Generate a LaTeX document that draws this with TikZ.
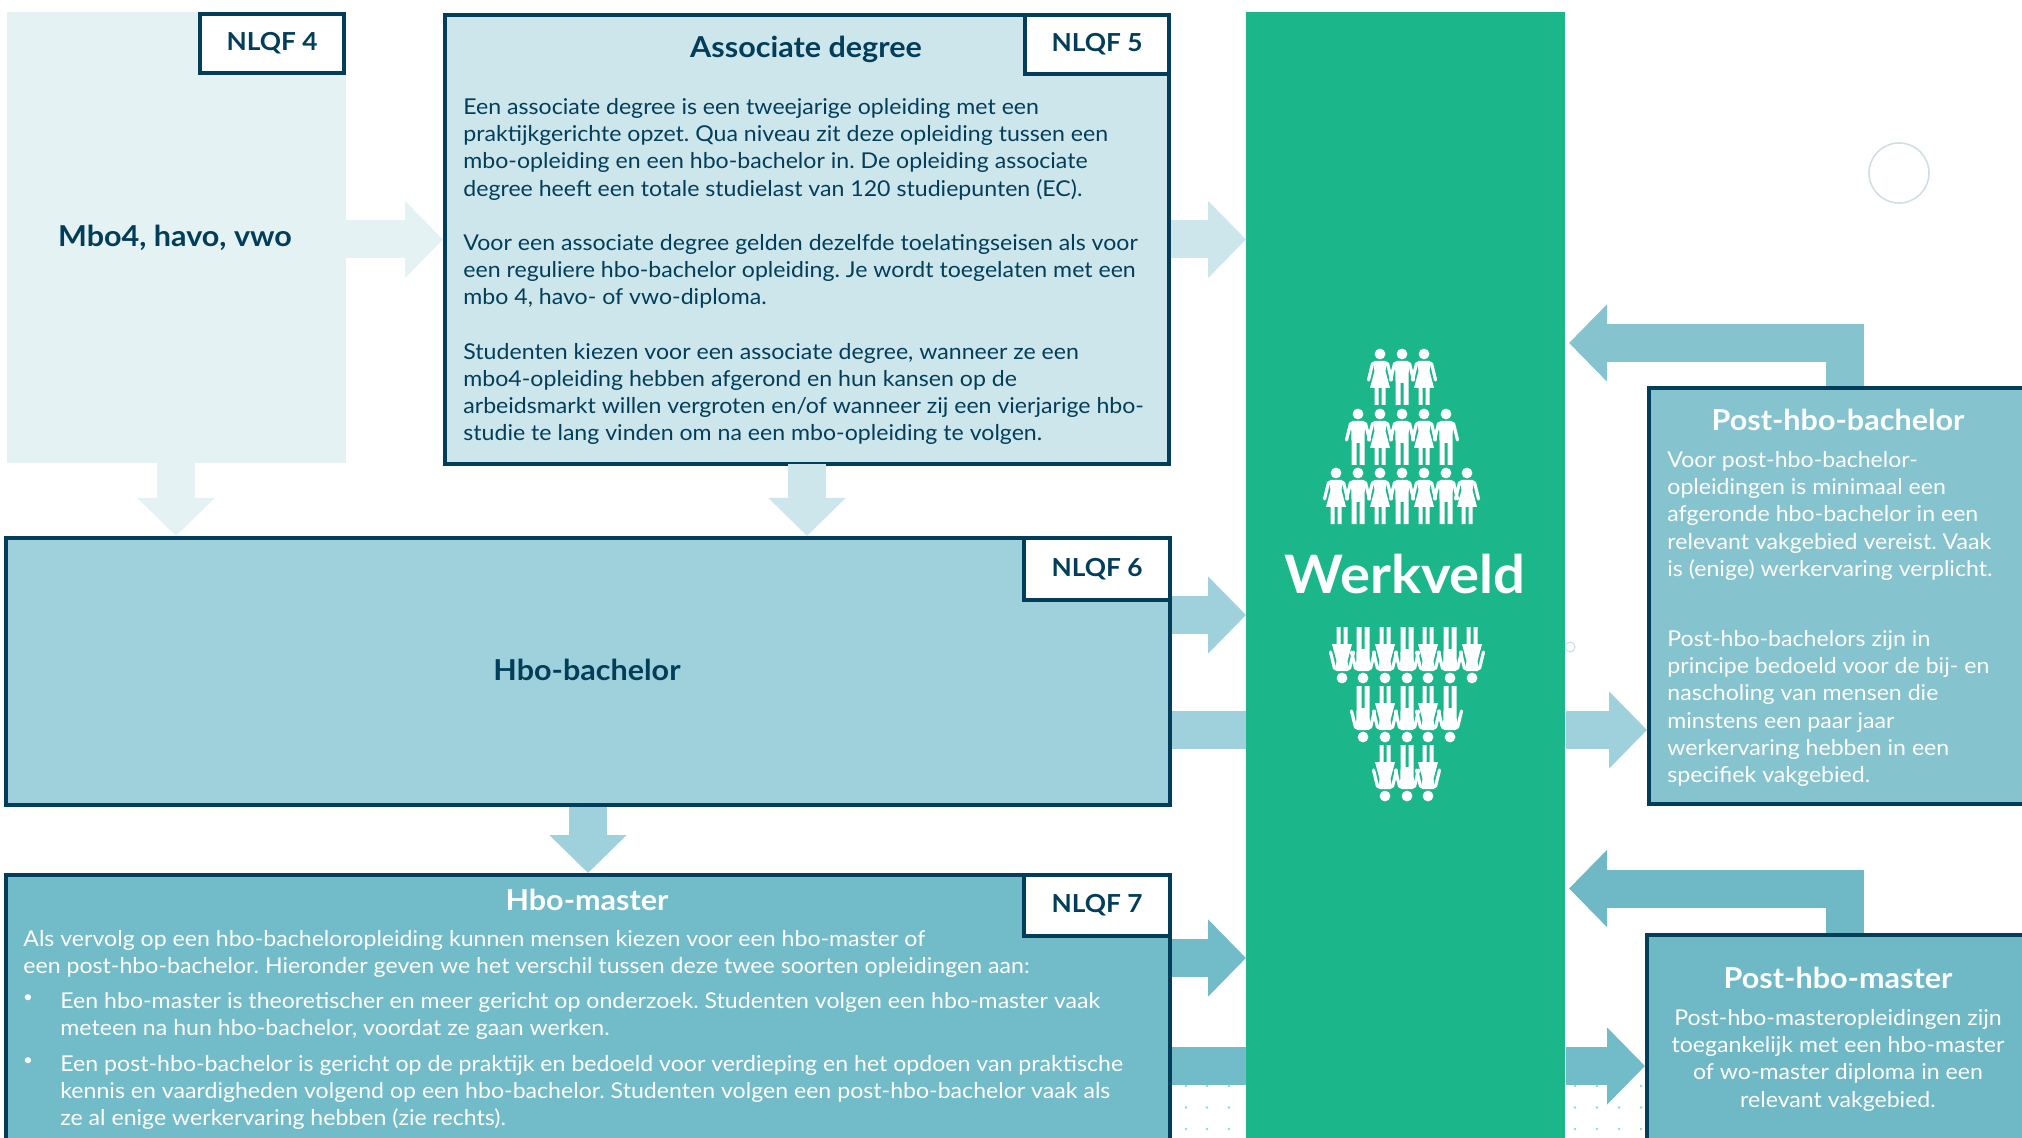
\documentclass[tikz,border=0pt]{standalone}
\usepackage{fontspec}
\setmainfont[FakeStretch=1.06]{Lato}
\usetikzlibrary{arrows.meta}
\definecolor{navy}{HTML}{023E5A}
\definecolor{groen}{HTML}{1CB68B}
\definecolor{ringgrijs}{HTML}{D0DFE5}
\definecolor{blauwa}{HTML}{E5F2F4}
\definecolor{blauwb}{HTML}{CDE6EC}
\definecolor{blauwc}{HTML}{9FD1DC}
\definecolor{blauwd}{HTML}{72BBC8}
\definecolor{blauwe}{HTML}{85C3CF}
\definecolor{blauwf}{HTML}{6FB8C6}
\frenchspacing
\tikzset{
  man/.pic={
    \fill[white] (0,0) circle (5.4);
    \fill[white] (-7,8) to[out=70,in=180] (-3,7) -- (3,7) to[out=0,in=110] (7,8) -- (6.5,27) -- (6.5,51) -- (1.5,51) -- (1.5,29) -- (-1.5,29) -- (-1.5,51) -- (-6.5,51) -- (-6.5,27) -- cycle;
    \draw[white,line width=1.6pt,line cap=round] (-7.5,9.5) -- (-11.5,26);
    \draw[white,line width=1.6pt,line cap=round] (7.5,9.5) -- (11.5,26);
  },
  woman/.pic={
    \fill[white] (0,0) circle (5.4);
    \fill[white] (-7,8) to[out=70,in=180] (-3,7) -- (3,7) to[out=0,in=110] (7,8) -- (5.5,17) -- (10,34) -- (5.5,34) -- (5.5,51) -- (1.5,51) -- (1.5,34) -- (-1.5,34) -- (-1.5,51) -- (-5.5,51) -- (-5.5,34) -- (-10,34) -- (-5.5,17) -- cycle;
    \draw[white,line width=1.6pt,line cap=round] (-7.5,9.5) -- (-11.5,26);
    \draw[white,line width=1.6pt,line cap=round] (7.5,9.5) -- (11.5,26);
  }
}

\begin{document}
\begin{tikzpicture}[x=0.5pt,y=-0.5pt,inner sep=0pt,text=navy]
    \tikzstyle{box}=[rectangle,draw=navy,line width=2pt,anchor=north west];
    \tikzstyle{tag}=[rectangle,draw=navy,line width=2pt,fill=white,anchor=north east,minimum width=72pt,minimum height=29.5pt,font=\bfseries\fontsize{12.4}{13.6}\selectfont];
    \tikzstyle{kop}=[font=\bfseries\fontsize{14.4}{16}\selectfont];
    \tikzstyle{tekst}=[anchor=north west,align=left,font=\fontsize{10.9}{13.6}\selectfont];
    \tikzstyle{bol}=[text=white,font=\fontsize{8}{10}\selectfont];
    \tikzstyle{pijl}=[line width=19pt,-{Triangle[length=19pt,width=37.5pt]}];
    \clip (0,0) rectangle (2022,1138);

    % Draw the background marks
    \node[circle,draw=ringgrijs,line width=0.8pt,minimum size=30pt] (ring) at (1899,173) {};
    \node[circle,draw=ringgrijs,line width=0.6pt,minimum size=5pt] (stip) at (1570,647) {};
    \foreach \y in {1086,1107.5,1129} {
        \foreach \x in {1186,1207,1229,1575,1597,1619,1641}
            \fill[groen!50] (\x,\y) circle (1.3);
    }

    % Draw the boxes
    \node[rectangle,fill=blauwa,anchor=north west,outer sep=0pt,minimum width=169.5pt,minimum height=225.5pt] (mbo) at (7,12) {};
    \node[box,fill=blauwb,minimum width=362pt,minimum height=224.5pt] (ad) at (443,13) {};
    \node[box,fill=blauwc,minimum width=582pt,minimum height=133.5pt] (bachelor) at (4,536) {};
    \node[box,fill=blauwd,minimum width=582pt,minimum height=150pt] (master) at (4,873) {};
    \node[box,fill=blauwe,minimum width=220pt,minimum height=208pt] (postbachelor) at (1647,386) {};
    \node[box,fill=blauwf,minimum width=220pt,minimum height=120pt] (postmaster) at (1645,933) {};
    \node[rectangle,fill=groen,anchor=north west,minimum width=159.5pt,minimum height=570pt] (werkveld) at (1246,12) {};

    \node[tag] (tag4) at (mbo.north east) {NLQF 4};
    \node[tag] (tag5) at (ad.north east) {NLQF 5};
    \node[tag,minimum width=73pt,minimum height=31pt] (tag6) at (bachelor.north east) {NLQF 6};
    \node[tag,minimum width=73pt,minimum height=30.5pt] (tag7) at (master.north east) {NLQF 7};

    % Draw the titles
    \node[kop] (mbotitel) at (175,238) {Mbo4, havo, vwo};
    \node[kop] (adtitel) at (806,49) {Associate degree};
    \node[kop] (bachelortitel) at (587,670) {Hbo-bachelor};
    \node[kop,text=white] (mastertitel) at (587,900) {Hbo-master};
    \node[kop,text=white] (postbachelortitel) at (1838,420) {Post-hbo-bachelor};
    \node[kop,text=white] (postmastertitel) at (1838,978) {Post-hbo-master};
    \node[text=white,font=\bfseries\fontsize{26.5}{30}\selectfont] (werkveldtitel) at (1405,574) {Werkveld};

    % Draw the texts
    \node[tekst] (adtekst) at (463,98) {Een associate degree is een tweejarige opleiding met een\\
        praktijkgerichte opzet. Qua niveau zit deze opleiding tussen een\\
        mbo-opleiding en een hbo-bachelor in. De opleiding associate\\
        degree heeft een totale studielast van 120 studiepunten (EC).\\[13.6pt]
        Voor een associate degree gelden dezelfde toelatingseisen als voor\\
        een reguliere hbo-bachelor opleiding. Je wordt toegelaten met een\\
        mbo 4, havo- of vwo-diploma.\\[13.6pt]
        Studenten kiezen voor een associate degree, wanneer ze een\\
        mbo4-opleiding hebben afgerond en hun kansen op de\\
        arbeidsmarkt willen vergroten en/of wanneer zij een vierjarige hbo-\\
        studie te lang vinden om na een mbo-opleiding te volgen.};
    \node[tekst,text=white] (mastertekst) at (23,930) {Als vervolg op een hbo-bacheloropleiding kunnen mensen kiezen voor een hbo-master of\\
        een post-hbo-bachelor. Hieronder geven we het verschil tussen deze twee soorten opleidingen aan:};
    \node[bol] (bolleen) at (28,999) {•};
    \node[tekst,text=white] (lijsteen) at (60,992) {Een hbo-master is theoretischer en meer gericht op onderzoek. Studenten volgen een hbo-master vaak\\
        meteen na hun hbo-bachelor, voordat ze gaan werken.};
    \node[bol] (boltwee) at (28,1062) {•};
    \node[tekst,text=white] (lijsttwee) at (60,1055) {Een post-hbo-bachelor is gericht op de praktijk en bedoeld voor verdieping en het opdoen van praktische\\
        kennis en vaardigheden volgend op een hbo-bachelor. Studenten volgen een post-hbo-bachelor vaak als\\
        ze al enige werkervaring hebben (zie rechts).};
    \node[tekst,text=white] (postbacheloreen) at (1667,451) {Voor post-hbo-bachelor-\\
        opleidingen is minimaal een\\
        afgeronde hbo-bachelor in een\\
        relevant vakgebied vereist. Vaak\\
        is (enige) werkervaring verplicht.};
    \node[tekst,text=white] (postbachelortwee) at (1667,630) {Post-hbo-bachelors zijn in\\
        principe bedoeld voor de bij- en\\
        nascholing van mensen die\\
        minstens een paar jaar\\
        werkervaring hebben in een\\
        specifiek vakgebied.};
    \node[tekst,text=white,anchor=north,align=center] (postmastertekst) at (1838,1009) {Post-hbo-masteropleidingen zijn\\
        toegankelijk met een hbo-master\\
        of wo-master diploma in een\\
        relevant vakgebied.};

    % Draw the people
    \foreach \x/\y in {1380/354,1424/354,1380/414,1424/414,1336/473,1380/473,1424/473,1467/473}
        \pic at (\x,\y) {woman};
    \foreach \x/\y in {1402/354,1358/414,1402/414,1446/414,1358/473,1402/473,1446/473}
        \pic at (\x,\y) {man};
    \foreach \x/\y in {1342/678,1385/678,1428/678,1472/678,1385/737,1428/737,1385/796,1428/796}
        \pic[rotate=180] at (\x,\y) {woman};
    \foreach \x/\y in {1363/678,1407/678,1450/678,1363/737,1407/737,1450/737,1407/796}
        \pic[rotate=180] at (\x,\y) {man};

    % Connect the boxes
    \coordinate (bachelorboven) at (bachelor.east |- 0,615);
    \coordinate (bacheloronder) at (bachelor.east |- 0,730);
    \coordinate (masterboven) at (master.east |- 0,958);
    \coordinate (masteronder) at (master.east |- 0,1066);
    \coordinate (postbachelorpunt) at (1569,343);
    \coordinate (postmasterpunt) at (1569,888.5);
    \coordinate (postbachelorstart) at (1845,386);
    \coordinate (postmasterstart) at (1845,933);
    \coordinate (mboonder) at (176,463);
    \coordinate (adonder) at (807,464);

    \draw[pijl,draw=blauwa] (mbo.east |- ad.west) -- (ad.west);
    \draw[pijl,draw=blauwb] (ad.east) -- (ad.east -| werkveld.west);
    \draw[pijl,draw=blauwa] (mboonder) -- (mboonder |- bachelor.north);
    \draw[pijl,draw=blauwb] (adonder) -- (adonder |- bachelor.north);
    \draw[pijl,draw=blauwc] (bachelorboven) -- (bachelorboven -| werkveld.west);
    \draw[line width=19pt,draw=blauwc] (bacheloronder) -- (bacheloronder -| werkveld.west);
    \draw[pijl,draw=blauwc] (bacheloronder -| werkveld.east) -- (bacheloronder -| postbachelor.west);
    \draw[pijl,draw=blauwc] (bachelor.south) -- (master.north);
    \draw[pijl,draw=blauwd] (masterboven) -- (masterboven -| werkveld.west);
    \draw[line width=19pt,draw=blauwd] (masteronder) -- (masteronder -| werkveld.west);
    \draw[pijl,draw=blauwd] (masteronder -| werkveld.east) -- (masteronder -| postmaster.west);
    \draw[pijl,draw=blauwe] (postbachelorstart) |- (postbachelorpunt);
    \draw[pijl,draw=blauwf] (postmasterstart) |- (postmasterpunt);

\end{tikzpicture}
\end{document}
